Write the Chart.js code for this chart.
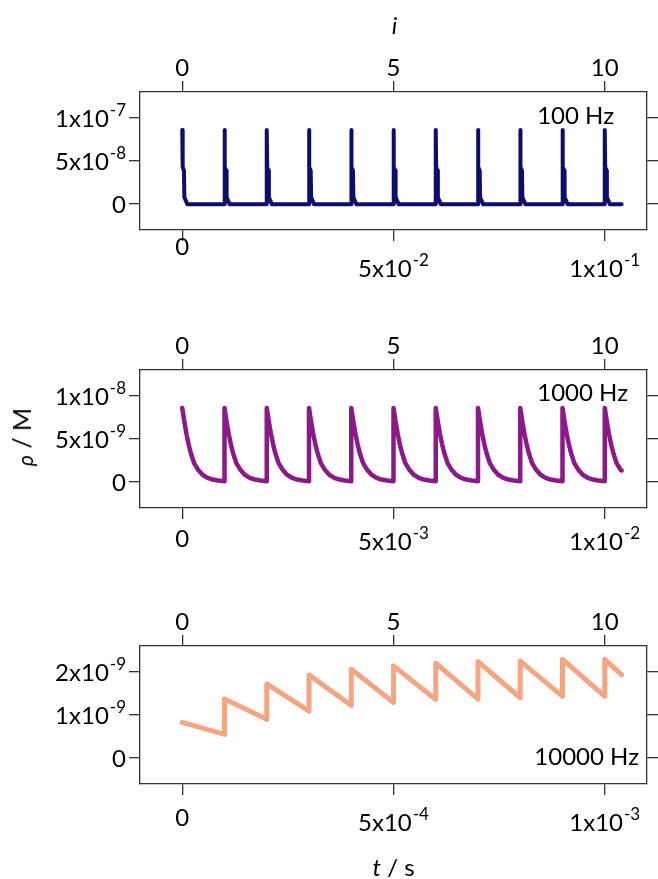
<!DOCTYPE html>
<html>
<head>
<meta charset="utf-8">
<script src="https://cdn.jsdelivr.net/npm/chart.js"></script>
<style>
  body { margin: 0; background: #fff; width: 658px; height: 879px; position: relative; overflow: hidden; font-family: Lato, sans-serif; }
  canvas { position: absolute; left: 0; }
  #ylab { position: absolute; left: 21px; top: 437px; transform: translate(-50%, -50%) rotate(-90deg);
          white-space: nowrap; font-size: 25px; color: #000; }
  #ylab span { font-size: 21px; font-style: italic; position: relative; top: 2px; }
</style>
</head>
<body>
<canvas id="p100" width="658" height="290" style="top:0"></canvas>
<canvas id="p1000" width="658" height="290" style="top:290px"></canvas>
<canvas id="p10000" width="658" height="299" style="top:580px"></canvas>
<div id="ylab"><span>ρ</span> / M</div>

<script>
// ── Pulse-train response at three repetition rates ─────────────────────────────
// x runs in pulse index i (top axis); bottom axis shows the same span as t = i / f.

const iTicks  = [0, 5, 10];
const iLabels = ['0', '5', '10'];
const iRange  = [-1, 11];
const iEnd    = 10.4;

// 100 Hz: each pulse has relaxed to ~0 within a tenth of the period
const pulses100   = [0, 1, 2, 3, 4, 5, 6, 7, 8, 9, 10];
const shapeI100   = [0, 0.01, 0.04, 0.05, 0.12, 1];
const shapeRho100 = [8.6e-8, 4.3e-8, 3.9e-8, 0.8e-8, 0, 0];
const endRho100   = 0;
const yTicks100   = [0, 5e-8, 1e-7];
const yLabels100  = ['0', '5x10^-8', '1x10^-7'];
const tTicks100   = [0, 5e-2, 1e-1];
const tLabels100  = ['0', '5x10^-2', '1x10^-1'];

// 1000 Hz: decay takes most of the period
const pulses1000   = [0, 1, 2, 3, 4, 5, 6, 7, 8, 9, 10];
const shapeI1000   = [0, 0.05, 0.1, 0.15, 0.2, 0.28, 0.38, 0.48, 0.6, 0.72, 0.85, 1];
const shapeRho1000 = [8.6e-9, 7.0e-9, 5.6e-9, 4.4e-9, 3.4e-9, 2.2e-9, 1.4e-9, 0.85e-9, 0.5e-9, 0.3e-9, 0.18e-9, 0.1e-9];
const endRho1000   = 1.35e-9;
const yTicks1000   = [0, 5e-9, 1e-8];
const yLabels1000  = ['0', '5x10^-9', '1x10^-8'];
const tTicks1000   = [0, 5e-3, 1e-2];
const tLabels1000  = ['0', '5x10^-3', '1x10^-2'];

// 10000 Hz: pulses pile up, sawtooth with a rising floor
const startRho10000  = 0.83e-9;
const jumpI10000     = [1, 2, 3, 4, 5, 6, 7, 8, 9, 10];
const troughRho10000 = [0.55e-9, 0.90e-9, 1.09e-9, 1.22e-9, 1.29e-9, 1.36e-9, 1.37e-9, 1.40e-9, 1.43e-9, 1.43e-9];
const peakRho10000   = [1.37e-9, 1.72e-9, 1.93e-9, 2.06e-9, 2.14e-9, 2.20e-9, 2.24e-9, 2.25e-9, 2.29e-9, 2.29e-9];
const endRho10000    = 1.93e-9;
const yTicks10000    = [0, 1e-9, 2e-9];
const yLabels10000   = ['0', '1x10^-9', '2x10^-9'];
const tTicks10000    = [0, 5e-4, 1e-3];
const tLabels10000   = ['0', '5x10^-4', '1x10^-3'];

function pulseTrain(pulses, shapeI, shapeRho, endRho) {
  const pts = [];
  pulses.forEach(k => shapeI.forEach((d, j) => {
    if (k + d < iEnd) pts.push({ x: k + d, y: shapeRho[j] });
  }));
  pts.push({ x: iEnd, y: endRho });
  return pts;
}

function sawtooth() {
  const pts = [{ x: 0, y: startRho10000 }];
  jumpI10000.forEach((k, j) => {
    pts.push({ x: k, y: troughRho10000[j] });
    pts.push({ x: k, y: peakRho10000[j] });
  });
  pts.push({ x: iEnd, y: endRho10000 });
  return pts;
}

const INK = '#000';
const BOX = '#333';
const FONT = 'Lato, "Open Sans", sans-serif';

// "5x10^-8" -> base text plus raised exponent
function drawLabel(ctx, text, x, yMid, align) {
  const [base, exp] = text.split('^');
  ctx.font = `24px ${FONT}`;
  const wb = ctx.measureText(base).width;
  ctx.font = `17px ${FONT}`;
  const we = exp ? ctx.measureText(exp).width + 1 : 0;
  const w = wb + we;
  let x0 = align === 'right' ? x - w : align === 'center' ? x - w / 2 : x;
  ctx.textAlign = 'left';
  ctx.textBaseline = 'alphabetic';
  ctx.font = `24px ${FONT}`;
  ctx.fillText(base, x0, yMid + 9);
  if (exp) {
    ctx.font = `17px ${FONT}`;
    ctx.fillText(exp, x0 + wb + 1, yMid - 2);
  }
}

const labelPlugin = {
  id: 'panelLabels',
  afterDraw(chart, args, o) {
    const { ctx, chartArea: a, scales } = chart;
    ctx.save();
    ctx.fillStyle = INK;
    scales.x2.ticks.forEach((t, n) =>
      drawLabel(ctx, iLabels[n], scales.x2.getPixelForValue(t.value), a.top - 25, 'center'));
    scales.x.ticks.forEach((t, n) => {
      const txt = o.tLabels[n];
      const off = txt.includes('^') ? o.tExpOff : o.tZeroOff;
      drawLabel(ctx, txt, scales.x.getPixelForValue(t.value), a.bottom + off, 'center');
    });
    scales.y.ticks.forEach((t, n) =>
      drawLabel(ctx, o.yLabels[n], a.left - 14, scales.y.getPixelForValue(t.value), 'right'));

    ctx.font = `24px ${FONT}`;
    ctx.textAlign = 'right';
    ctx.textBaseline = 'middle';
    ctx.fillText(o.hz, o.hzX, o.hzTop ? a.top + o.hzOff : a.bottom - o.hzOff);

    const cx = (a.left + a.right) / 2;
    if (o.iTitle) {
      ctx.font = `italic 24px ${FONT}`;
      ctx.textAlign = 'center';
      ctx.fillText('i', cx + 1, a.top - 66);
    }
    if (o.tTitle) {
      ctx.textAlign = 'left';
      ctx.font = `italic 24px ${FONT}`;
      const wt = ctx.measureText('t').width;
      ctx.font = `24px ${FONT}`;
      const wr = ctx.measureText(' / s').width;
      const x0 = cx - (wt + wr) / 2;
      ctx.font = `italic 24px ${FONT}`;
      ctx.fillText('t', x0, a.bottom + 84);
      ctx.font = `24px ${FONT}`;
      ctx.fillText(' / s', x0 + wt, a.bottom + 84);
    }
    ctx.restore();
  }
};

function axisLine(extra) {
  return Object.assign({
    type: 'linear',
    ticks: { display: false },
    grid: { drawOnChartArea: false, drawTicks: true, tickLength: 11, lineWidth: 1.3, color: BOX },
    border: { display: true, color: BOX, width: 1.3 }
  }, extra);
}

function makePanel(id, p) {
  const fixTicks = vals => s => { s.ticks = vals.map(v => ({ value: v })); };
  new Chart(document.getElementById(id), {
    type: 'line',
    data: {
      datasets: [{
        data: p.data, xAxisID: 'x2', yAxisID: 'y',
        borderColor: p.color, borderWidth: p.lineWidth,
        pointRadius: 0, tension: 0, fill: false,
        borderCapStyle: 'round', borderJoinStyle: 'round'
      }]
    },
    options: {
      responsive: false,
      animation: false,
      layout: { padding: 0 },
      plugins: {
        legend: { display: false },
        tooltip: { enabled: false },
        panelLabels: p.labels
      },
      scales: {
        x: axisLine({ position: 'bottom', min: iRange[0] / p.f, max: iRange[1] / p.f,
                      afterBuildTicks: fixTicks(p.tTicks), afterFit: s => { s.height = p.bottomH; } }),
        x2: axisLine({ position: 'top', min: iRange[0], max: iRange[1],
                       afterBuildTicks: fixTicks(iTicks), afterFit: s => { s.height = p.topH; } }),
        y: axisLine({ position: 'left', min: p.yMin, max: p.yMax,
                      afterBuildTicks: fixTicks(p.yTicks), afterFit: s => { s.width = 140; } }),
        y2: axisLine({ position: 'right', min: p.yMin, max: p.yMax,
                       afterBuildTicks: fixTicks(p.yTicks), afterFit: s => { s.width = 11; } })
      }
    },
    plugins: [labelPlugin]
  });
}

function build() {
  makePanel('p100', {
    f: 100, data: pulseTrain(pulses100, shapeI100, shapeRho100, endRho100),
    color: '#0d0d6b', lineWidth: 4,
    yMin: -3e-8, yMax: 1.3e-7, yTicks: yTicks100, tTicks: tTicks100,
    topH: 92, bottomH: 60,
    labels: { yLabels: yLabels100, tLabels: tLabels100, tZeroOff: 16, tExpOff: 38,
              hz: '100 Hz', hzX: 614, hzTop: true, hzOff: 24, iTitle: true }
  });
  makePanel('p1000', {
    f: 1000, data: pulseTrain(pulses1000, shapeI1000, shapeRho1000, endRho1000),
    color: '#8a1a87', lineWidth: 4.5,
    yMin: -3e-9, yMax: 1.3e-8, yTicks: yTicks1000, tTicks: tTicks1000,
    topH: 80, bottomH: 72,
    labels: { yLabels: yLabels1000, tLabels: tLabels1000, tZeroOff: 30, tExpOff: 33,
              hz: '1000 Hz', hzX: 628, hzTop: true, hzOff: 23 }
  });
  makePanel('p10000', {
    f: 10000, data: sawtooth(),
    color: '#f4a582', lineWidth: 5,
    yMin: -0.6e-9, yMax: 2.6e-9, yTicks: yTicks10000, tTicks: tTicks10000,
    topH: 66, bottomH: 95,
    labels: { yLabels: yLabels10000, tLabels: tLabels10000, tZeroOff: 33, tExpOff: 38,
              hz: '10000 Hz', hzX: 639, hzTop: false, hzOff: 27, tTitle: true }
  });
}

if (document.fonts && document.fonts.load) {
  document.fonts.load('24px Lato').then(build, build);
} else {
  build();
}
</script>
</body>
</html>
